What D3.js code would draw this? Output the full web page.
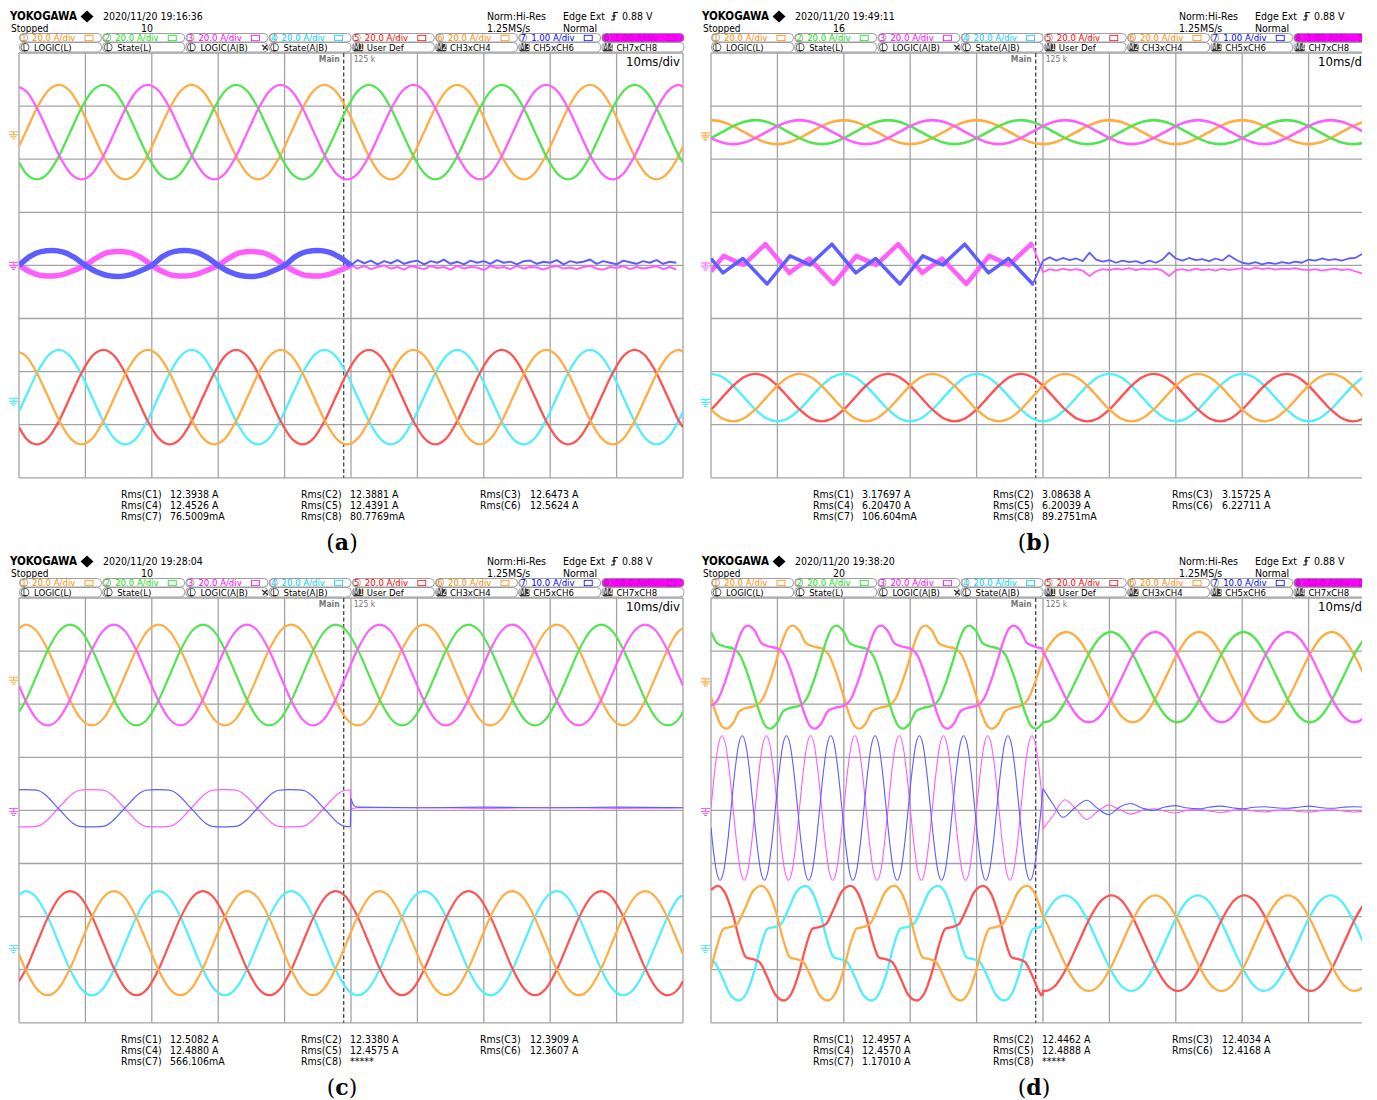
<!DOCTYPE html>
<html lang="en">
<head>
<meta charset="UTF-8">
<title>Scope captures (a)-(d)</title>
<script src="https://d3js.org/d3.v7.min.js"></script>
<style>
  body { margin: 0; background: #fff; }
  text { font-family: "Liberation Sans Narrow", "DejaVu Sans Condensed", "Liberation Sans", sans-serif; }
</style>
</head>
<body>
<svg id="chart" width="1377" height="1100"></svg>
<script>
// ---------------- header / readout text ----------------
const captions = ["a", "b", "c", "d"];
const stampDates = ["2020/11/20 19:16:36", "2020/11/20 19:49:11", "2020/11/20 19:28:04", "2020/11/20 19:38:20"];
const acqCounts = ["10", "16", "10", "20"];
const chScale = ["20.0", "20.0", "20.0", "20.0", "20.0", "20.0"];
const ch78Scale = ["1.00", "1.00", "10.0", "10.0"];
const row2Tags = ["L", "L", "L", "L", "M1", "M2", "M3", "M4"];
const row2Names = ["LOGIC(L)", "State(L)", "LOGIC(A|B)", "State(A|B)", "User Def", "CH3xCH4", "CH5xCH6", "CH7xCH8"];
const rmsNames = [["Rms(C1)", "Rms(C4)", "Rms(C7)"], ["Rms(C2)", "Rms(C5)", "Rms(C8)"], ["Rms(C3)", "Rms(C6)"]];
const rmsA = [["12.3938 A", "12.4526 A", "76.5009mA"], ["12.3881 A", "12.4391 A", "80.7769mA"], ["12.6473 A", "12.5624 A"]];
const rmsB = [["3.17697 A", "6.20470 A", "106.604mA"], ["3.08638 A", "6.20039 A", "89.2751mA"], ["3.15725 A", "6.22711 A"]];
const rmsC = [["12.5082 A", "12.4880 A", "566.106mA"], ["12.3380 A", "12.4575 A", "*****"], ["12.3909 A", "12.3607 A"]];
const rmsD = [["12.4957 A", "12.4570 A", "1.17010 A"], ["12.4462 A", "12.4888 A", "*****"], ["12.4034 A", "12.4168 A"]];
const trigDiv = 4.89;   // dashed trigger marker, divisions

// ---------------- waveform data (time and amplitude in divisions) ----------------
// one clean cycle, 12 samples starting at the crest
const sineCycle = [1, 0.87, 0.5, 0, -0.5, -0.87, -1, -0.87, -0.5, 0, 0.5, 0.87];

// (a) crests of ch1/ch2/ch3 and ch4/ch5/ch6
const aTopCrest = [0.60, 1.27, 1.94];
const aBotCrest = [0.60, 1.27, 1.94];
const aTopAmp = 0.89, aBotAmp = 0.89;
// (a) ch7 / ch8 before the fault, 12 samples per 20 ms from the rising zero
const aBlueCycle = [0, 0.17, 0.26, 0.28, 0.25, 0.15, 0, -0.12, -0.19, -0.21, -0.18, -0.1];
const aPinkCycle = [0, -0.12, -0.19, -0.2, -0.17, -0.09, 0, 0.14, 0.24, 0.26, 0.24, 0.15];
// (a) after the fault, every 0.1 div from 5.0
const aBlueAfter = [0, 0.1, 0.04, 0.09, 0.02, 0.08, 0.04, 0.1, 0.03, 0.07, 0.09, 0.02, 0.08, 0.05, 0.11, 0.03, 0.07, 0.02, 0.09, 0.05,
  0.08, 0.03, 0.1, 0.05, 0.07, 0.02, 0.08, 0.09, 0.03, 0.07, 0.05, 0.1, 0.02, 0.08, 0.05, 0.07, 0.11, 0.03, 0.08, 0.05,
  0.02, 0.09, 0.06, 0.03, 0.08, 0.05, 0.1, 0.03, 0.07, 0.05];
const aPinkAfter = [0, -0.06, -0.01, -0.07, -0.03, 0, -0.06, -0.03, -0.08, -0.01, -0.04, -0.07, -0.01, -0.05, -0.03, -0.08, -0.01, -0.06, -0.03, -0.04,
  -0.09, -0.01, -0.05, -0.03, -0.07, -0.01, -0.06, -0.03, -0.04, -0.08, -0.03, -0.01, -0.06, -0.04, -0.07, -0.03, -0.01, -0.06, -0.08, -0.03,
  -0.05, -0.01, -0.07, -0.03, -0.06, -0.04, -0.01, -0.07, -0.03, -0.08];

// (b)
const bTopCrest = [0.0, 0.667, 1.333];
const bBotCrest = [0.0, 0.667, 1.333];
const bTopAmp = 0.226, bBotAmp = 0.447;
// (b) ch7 before the fault: corner points over one 20 ms cycle [fraction, div]; ch8 is the same shape half a cycle later
const bMidCycle = [[0, -0.34], [0.1725, 0.19], [0.3225, 0.02], [0.4875, 0.41], [0.6675, -0.13], [0.8175, 0.14]];
const bBlueOrigin = 0.845, bPinkOrigin = 1.845;
const bBlueAfter = [0.1, 0.16, 0.1, 0.15, 0.11, 0.14, 0.09, 0.25, 0.12, 0.08, 0.11, 0.06, 0.1, 0.07, 0.09, 0.05, 0.1, 0.06, 0.12, 0.25,
  0.14, 0.1, 0.15, 0.11, 0.13, 0.09, 0.14, 0.1, 0.2, 0.12, 0.06, 0.04, 0.07, 0.03, 0.06, 0.04, 0.07, 0.05, 0.08, 0.06,
  0.12, 0.1, 0.14, 0.11, 0.13, 0.1, 0.14, 0.15, 0.22, 0.18];
const bPinkAfter = [-0.12, -0.06, -0.09, -0.05, -0.08, -0.06, -0.09, -0.19, -0.1, -0.06, -0.08, -0.05, -0.07, -0.04, -0.08, -0.05, -0.07, -0.05, -0.09, -0.19,
  -0.08, -0.06, -0.09, -0.05, -0.08, -0.06, -0.09, -0.05, -0.08, -0.06, -0.04, -0.07, -0.03, -0.06, -0.04, -0.07, -0.05, -0.06, -0.04, -0.07,
  -0.08, -0.06, -0.09, -0.07, -0.05, -0.08, -0.06, -0.1, -0.14, -0.15];

// (c)
const cTopCrest = [0.1, 0.77, 1.43];
const cBotCrest = [0.1, 0.77, 1.43];
const cTopAmp = 0.95, cBotAmp = 0.98;
// (c) ch7 before the fault: flattened cycle [fraction, value] from the crest
const cMidCycle = [[0, 1], [0.075, 0.99], [0.125, 0.93], [0.185, 0.62], [0.25, 0.12], [0.315, -0.38], [0.375, -0.8], [0.425, -0.97],
  [0.5, -1], [0.575, -0.99], [0.625, -0.93], [0.685, -0.62], [0.75, -0.12], [0.815, 0.38], [0.875, 0.8], [0.925, 0.97]];
const cBlueCrest = 0.06, cPinkCrest = 1.06, cMidAmp = 0.35, cMidOffset = 0.04;
const cBlueAfter = [[5.0, 0.22], [5.04, 0.1], [5.1, 0.06], [6, 0.05], [7, 0.06], [8, 0.05], [9, 0.06], [10, 0.05]];
const cPinkAfter = [[5.0, 0.02], [5.04, 0.04], [5.1, 0.05], [6, 0.05], [7, 0.04], [8, 0.05], [9, 0.04], [10, 0.05]];

// (d) distorted cycles before the fault [fraction, value] from the crest
const dTopCycle = [[0, 1], [0.05, 0.9], [0.1, 0.66], [0.15, 0.6], [0.225, 0.55], [0.275, 0.42], [0.325, 0.1], [0.375, -0.3], [0.425, -0.72], [0.465, -0.95],
  [0.5, -1], [0.55, -0.9], [0.6, -0.66], [0.65, -0.6], [0.725, -0.55], [0.775, -0.42], [0.825, -0.1], [0.875, 0.3], [0.925, 0.72], [0.965, 0.95]];
const dBotCycle = [[0, 1], [0.05, 0.9], [0.115, 0.5], [0.165, 0.05], [0.215, -0.25], [0.265, -0.28], [0.315, -0.33], [0.375, -0.6], [0.435, -0.9],
  [0.5, -1], [0.55, -0.9], [0.615, -0.5], [0.665, -0.05], [0.715, 0.25], [0.765, 0.28], [0.815, 0.33], [0.875, 0.6], [0.935, 0.9]];
const dTopCrestPre = [1.23, 1.89, 0.56], dTopAmpPre = 0.97;
const dBotCrestPre = [1.42, 0.1, 0.76], dBotAmpPre = 1.08;
const dTopCrestPost = [1.35, 0.02, 0.69], dTopAmpPost = 0.85;
const dBotCrestPost = [1.33, 0.03, 0.69], dBotAmpPost = 0.9;
// (d) ch7 / ch8 : 150 Hz before the fault
const dMidPeriod = 0.667, dBlueCrest = 0.47, dPinkCrest = 0.166, dMidAmp = 1.36, dMidOffset = 0.045;
const dBlueAfter = [[5.0, 0.41], [5.15, 0.12], [5.3, -0.13], [5.48, 0.05], [5.66, 0.19], [5.82, 0.04], [5.99, -0.08], [6.15, 0.06], [6.32, 0.13],
  [6.5, 0.04], [6.66, 0], [6.82, 0.06], [6.99, 0.09], [7.15, 0.05], [7.35, 0.03], [7.5, 0.06], [7.68, 0.08], [7.85, 0.05], [8.01, 0.03],
  [8.17, 0.06], [8.34, 0.07], [8.5, 0.05], [8.68, 0.04], [8.85, 0.06], [9.01, 0.08], [9.2, 0.05], [9.35, 0.04], [9.52, 0.06], [9.68, 0.07], [9.85, 0.06]];
const dPinkAfter = [[5.0, -0.35], [5.15, -0.1], [5.33, 0.2], [5.5, 0.02], [5.66, -0.17], [5.82, -0.02], [5.99, 0.1], [6.15, 0.02], [6.32, -0.07],
  [6.5, 0], [6.66, 0.03], [6.82, -0.01], [6.99, -0.05], [7.15, 0], [7.35, 0.02], [7.5, -0.01], [7.68, -0.04], [7.85, 0], [8.01, 0.02],
  [8.17, -0.01], [8.34, -0.03], [8.5, 0], [8.68, 0.01], [8.85, -0.02], [9.01, -0.03], [9.2, 0], [9.35, 0.01], [9.52, -0.01], [9.68, -0.03], [9.85, -0.01]];

// ---------------- colours ----------------
const trace = { orange: "#ffad42", green: "#52e552", magenta: "#ff5eff", cyan: "#4fefff", red: "#ff5252", blue: "#5e5eff" };
const labelCol = ["#ff8a00", "#11dd11", "#ff00ff", "#00ccff", "#ff0000", "#ff8a00", "#0000ff", "#cc00cc"];

// ---------------- layout ----------------
const svg = d3.select("#chart");
const panelPos = [[0, 0], [692, 0], [0, 545], [692, 545]];
const clipRight = [688, 670, 688, 670];
const gridLeft = 19, gridTop = 53, divW = 66.4, divH = 53.1;
const x = d3.scaleLinear().domain([0, 10]).range([gridLeft, gridLeft + 10 * divW]);
const y = d3.scaleLinear().domain([0, 8]).range([gridTop, gridTop + 8 * divH]);

// ---------------- helpers ----------------
function asPairs(vals) { return vals.map((v, i) => [i / vals.length, v]); }
function stepPairs(vals, t0, dt) { return vals.map((v, i) => [t0 + i * dt, v]); }

function clipPts(all, t0, t1) {
  const out = all.filter(d => d[0] >= t0 && d[0] <= t1);
  const at = tt => {
    for (let i = 1; i < all.length; i++) {
      if (all[i][0] >= tt) {
        const a = all[i - 1], b = all[i];
        return a[1] + (b[1] - a[1]) * (tt - a[0]) / (b[0] - a[0]);
      }
    }
    return all[all.length - 1][1];
  };
  if (!out.length || out[0][0] > t0) out.unshift([t0, at(t0)]);
  if (out[out.length - 1][0] < t1) out.push([t1, at(t1)]);
  return out;
}

// repeat one cycle [fraction, value] over [t0, t1]
function periodic(pairs, period, origin, amp, offset, t0, t1) {
  const all = [];
  const k0 = Math.floor((t0 - origin) / period) - 1, k1 = Math.ceil((t1 - origin) / period) + 1;
  for (let k = k0; k <= k1; k++) pairs.forEach(([f, v]) => all.push([origin + (k + f) * period, offset + amp * v]));
  return clipPts(all, t0, t1);
}

const sinePairs = asPairs(sineCycle);

// ---------------- panel traces ----------------
function tracesFor(p) {
  const T = [];
  const tc = ["orange", "green", "magenta"], bc = ["cyan", "red", "orange"];
  if (p === 0) {
    tc.forEach((c, i) => T.push({ c, w: 2.3, lvl: 1.49, pts: periodic(sinePairs, 2, aTopCrest[i], aTopAmp, 0, 0, 10) }));
    bc.forEach((c, i) => T.push({ c, w: 2.3, lvl: 6.48, pts: periodic(sinePairs, 2, aBotCrest[i], aBotAmp, 0, 0, 10) }));
    T.push({ c: "magenta", w: 5.5, lvl: 4.0, pts: periodic(asPairs(aPinkCycle), 2, 0, 1, 0, 0, 5), after: stepPairs(aPinkAfter, 5.0, 0.1), wa: 2 });
    T.push({ c: "blue", w: 5.5, lvl: 4.0, pts: periodic(asPairs(aBlueCycle), 2, 0, 1, 0, 0, 5), after: stepPairs(aBlueAfter, 5.0, 0.1), wa: 2 });
  } else if (p === 1) {
    tc.forEach((c, i) => T.push({ c, w: 2.6, lvl: 1.49, pts: periodic(sinePairs, 2, bTopCrest[i], bTopAmp, 0, 0, 10) }));
    bc.forEach((c, i) => T.push({ c, w: 2.4, lvl: 6.49, pts: periodic(sinePairs, 2, bBotCrest[i], bBotAmp, 0, 0, 10) }));
    T.push({ c: "magenta", w: 4.5, lvl: 4.01, lin: true, pts: periodic(bMidCycle, 2, bPinkOrigin, 1, 0, 0, 4.85), after: stepPairs(bPinkAfter, 5.0, 0.1), wa: 1.8 });
    T.push({ c: "blue", w: 3.5, lvl: 4.01, lin: true, pts: periodic(bMidCycle, 2, bBlueOrigin, 1, 0, 0, 4.85), after: stepPairs(bBlueAfter, 5.0, 0.1), wa: 1.8 });
  } else if (p === 2) {
    tc.forEach((c, i) => T.push({ c, w: 2.2, lvl: 1.45, pts: periodic(sinePairs, 2, cTopCrest[i], cTopAmp, 0, 0, 10) }));
    bc.forEach((c, i) => T.push({ c, w: 2.2, lvl: 6.5, pts: periodic(sinePairs, 2, cBotCrest[i], cBotAmp, 0, 0, 10) }));
    T.push({ c: "magenta", w: 1.2, lvl: 4.0, pts: periodic(cMidCycle, 2, cPinkCrest, cMidAmp, cMidOffset, 0, 4.99), after: cPinkAfter, wa: 1.2 });
    T.push({ c: "blue", w: 1.2, lvl: 4.0, pts: periodic(cMidCycle, 2, cBlueCrest, cMidAmp, cMidOffset, 0, 4.99), after: cBlueAfter, wa: 1.2 });
  } else {
    tc.forEach((c, i) => T.push({ c, w: 2.3, lvl: 1.49,
      pts: periodic(dTopCycle, 2, dTopCrestPre[i], dTopAmpPre, 0, 0, 4.99),
      after: periodic(sinePairs, 2, dTopCrestPost[i], dTopAmpPost, 0, 5.0, 10), wa: 2.3 }));
    T.push({ c: "magenta", w: 1.1, lvl: 4.0, pts: periodic(sinePairs, dMidPeriod, dPinkCrest, dMidAmp, dMidOffset, 0, 4.97), after: dPinkAfter, wa: 1.1 });
    T.push({ c: "blue", w: 1.1, lvl: 4.0, pts: periodic(sinePairs, dMidPeriod, dBlueCrest, dMidAmp, dMidOffset, 0, 4.97), after: dBlueAfter, wa: 1.1 });
    bc.forEach((c, i) => T.push({ c, w: 2.3, lvl: 6.5,
      pts: periodic(dBotCycle, 2, dBotCrestPre[i], dBotAmpPre, 0, 0, 4.99),
      after: periodic(sinePairs, 2, dBotCrestPost[i], dBotAmpPost, 0, 5.0, 10), wa: 2.3 }));
  }
  return T;
}

const groundLevels = [[1.54, 4.0, 6.56], [1.56, 4.01, 6.58], [1.55, 4.02, 6.6], [1.58, 4.02, 6.6]];
const allRms = [rmsA, rmsB, rmsC, rmsD];

// ---------------- draw ----------------
const defs = svg.append("defs");

captions.forEach((cap, p) => {
  defs.append("clipPath").attr("id", "pclip" + p)
    .append("rect").attr("x", 0).attr("y", 0).attr("width", clipRight[p]).attr("height", 560);
  defs.append("clipPath").attr("id", "gclip" + p)
    .append("rect").attr("x", x(0)).attr("y", y(0)).attr("width", x(10) - x(0)).attr("height", y(8) - y(0));

  const g = svg.append("g").attr("transform", `translate(${panelPos[p]})`).attr("clip-path", `url(#pclip${p})`);

  // title block
  g.append("text").attr("x", 10).attr("y", 20).attr("font-size", 12).attr("font-weight", "bold")
    .attr("textLength", 67).attr("lengthAdjust", "spacingAndGlyphs").text("YOKOGAWA");
  g.append("path").attr("d", "M87,10.5 L93.5,16.5 L87,22.5 L80.5,16.5 Z").attr("fill", "#000");
  g.append("text").attr("x", 103).attr("y", 20).attr("font-size", 10.5).text(stampDates[p]);
  g.append("text").attr("x", 11).attr("y", 32).attr("font-size", 10).text("Stopped");
  g.append("text").attr("x", 141).attr("y", 32).attr("font-size", 10.5).text(acqCounts[p]);
  g.append("text").attr("x", 487).attr("y", 20).attr("font-size", 10.5).text("Norm:Hi-Res");
  g.append("text").attr("x", 487).attr("y", 31.5).attr("font-size", 10.5).text("1.25MS/s");
  g.append("text").attr("x", 563).attr("y", 20).attr("font-size", 10.5).text("Edge Ext");
  g.append("path").attr("d", "M611,20 L614,20 L614,12.5 L618,12.5 M612,16 L616,16").attr("stroke", "#000").attr("stroke-width", 1.2).attr("fill", "none");
  g.append("text").attr("x", 622).attr("y", 20).attr("font-size", 10.5).text("0.88 V");
  g.append("text").attr("x", 563).attr("y", 31.5).attr("font-size", 10.5).text("Normal");

  // channel boxes
  for (let i = 0; i < 8; i++) {
    const bx = 19 + i * 83.2;
    const col = labelCol[i];
    const r1 = g.append("g");
    r1.append("rect").attr("x", bx + 0.5).attr("y", 33.5).attr("width", 82).attr("height", 8.5).attr("rx", 4)
      .attr("fill", i === 7 ? "#ff00ff" : "#fff").attr("stroke", "#888").attr("stroke-width", 0.8);
    r1.append("ellipse").attr("cx", bx + 5).attr("cy", 37.7).attr("rx", 3.6).attr("ry", 4)
      .attr("fill", "none").attr("stroke", "#888").attr("stroke-width", 0.7);
    r1.append("text").attr("x", bx + 5).attr("y", 41.3).attr("text-anchor", "middle").attr("font-size", 9.5)
      .attr("fill", col).text(i + 1);
    const sc = i < 6 ? chScale[i] : ch78Scale[p];
    r1.append("text").attr("x", bx + 13).attr("y", 41.3).attr("font-size", 9.5).attr("fill", col)
      .text(sc + " A/div");
    r1.append("rect").attr("x", bx + 66).attr("y", 35.3).attr("width", 8).attr("height", 5.4)
      .attr("fill", "none").attr("stroke", col).attr("stroke-width", 0.8);

    const r2 = g.append("g");
    r2.append("rect").attr("x", bx + 0.5).attr("y", 42.5).attr("width", 82).attr("height", 9.5).attr("rx", 4)
      .attr("fill", "#fff").attr("stroke", "#888").attr("stroke-width", 0.8);
    if (i < 4) {
      r2.append("circle").attr("cx", bx + 6).attr("cy", 47.3).attr("r", 4).attr("fill", "none").attr("stroke", "#333").attr("stroke-width", 0.8);
      r2.append("text").attr("x", bx + 6).attr("y", 50.6).attr("text-anchor", "middle").attr("font-size", 8.5).text(row2Tags[i]);
    } else {
      r2.append("rect").attr("x", bx + 1.5).attr("y", 43.3).attr("width", 10).attr("height", 8).attr("rx", 1.5).attr("fill", "#333");
      r2.append("text").attr("x", bx + 6.5).attr("y", 50.4).attr("text-anchor", "middle").attr("font-size", 8).attr("fill", "#fff").text(row2Tags[i]);
    }
    r2.append("text").attr("x", bx + 15).attr("y", 50.8).attr("font-size", 9.5).text(row2Names[i]);
  }
  g.append("path").attr("d", "M262,45 L268,50 M263,50 L267,45").attr("stroke", "#333").attr("stroke-width", 1.3);

  // grid
  const grid = g.append("g").attr("stroke", "#a3a3a3").attr("stroke-width", 1.3);
  d3.range(0, 11).forEach(i => grid.append("line").attr("x1", x(i)).attr("x2", x(i)).attr("y1", y(0)).attr("y2", y(8)));
  d3.range(0, 9).forEach(i => grid.append("line").attr("x1", x(0)).attr("x2", x(10)).attr("y1", y(i)).attr("y2", y(i)));
  g.append("line").attr("x1", x(trigDiv)).attr("x2", x(trigDiv)).attr("y1", y(0)).attr("y2", y(8))
    .attr("stroke", "#444").attr("stroke-width", 1.3).attr("stroke-dasharray", "4,2.5");

  g.append("text").attr("x", x(trigDiv) - 4).attr("y", 62).attr("text-anchor", "end").attr("font-size", 8.5)
    .attr("font-weight", "bold").attr("fill", "#777").text("Main");
  g.append("text").attr("x", x(trigDiv) + 10).attr("y", 62).attr("font-size", 8.5).attr("fill", "#777").text("125 k");
  g.append("text").attr("x", x(10) - 3).attr("y", 66).attr("text-anchor", "end").attr("font-size", 13).text("10ms/div");

  // ground markers
  const gm = groundLevels[p];
  [["orange", gm[0]], ["magenta", gm[1]], ["cyan", gm[2]]].forEach(([c, lv]) => {
    const yy = y(lv);
    g.append("path").attr("d", `M9,${yy - 3} L18,${yy - 3} M13.5,${yy - 3} L13.5,${yy} M9,${yy} L18,${yy} M10.5,${yy + 2} L16.5,${yy + 2} M12,${yy + 4} L15,${yy + 4}`)
      .attr("stroke", trace[c]).attr("stroke-width", 1.1).attr("fill", "none");
  });

  // waveforms
  const tg = g.append("g").attr("clip-path", `url(#gclip${p})`);
  tracesFor(p).forEach(tr => {
    const line = d3.line().x(d => x(d[0])).y(d => y(tr.lvl - d[1]))
      .curve(tr.lin ? d3.curveLinear : d3.curveMonotoneX);
    tg.append("path").attr("d", line(tr.pts)).attr("fill", "none")
      .attr("stroke", trace[tr.c]).attr("stroke-width", tr.w).attr("stroke-linejoin", "round");
    if (tr.after) {
      const bridge = [tr.pts[tr.pts.length - 1], tr.after[0]];
      tg.append("path").attr("d", d3.line().x(d => x(d[0])).y(d => y(tr.lvl - d[1]))(bridge)).attr("fill", "none")
        .attr("stroke", trace[tr.c]).attr("stroke-width", tr.wa);
      const lineA = d3.line().x(d => x(d[0])).y(d => y(tr.lvl - d[1]))
        .curve(tr.lin || p < 2 ? d3.curveLinear : d3.curveMonotoneX);
      tg.append("path").attr("d", lineA(tr.after)).attr("fill", "none")
        .attr("stroke", trace[tr.c]).attr("stroke-width", tr.wa).attr("stroke-linejoin", "round");
    }
  });

  // rms readout
  const colX = [[121, 170], [301, 350], [480, 530]];
  allRms[p].forEach((col, ci) => col.forEach((val, ri) => {
    g.append("text").attr("x", colX[ci][0]).attr("y", 498 + ri * 10.8).attr("font-size", 10.5).text(rmsNames[ci][ri]);
    g.append("text").attr("x", colX[ci][1]).attr("y", 498 + ri * 10.8).attr("font-size", 10.5).text(val);
  }));

  // caption
  const ct = g.append("text").attr("x", 342).attr("y", 550).attr("text-anchor", "middle")
    .attr("font-size", 22).style("font-family", "'DejaVu Serif', 'Liberation Serif', serif");
  ct.append("tspan").text("(");
  ct.append("tspan").attr("font-weight", "bold").text(cap);
  ct.append("tspan").text(")");
});
</script>
</body>
</html>
